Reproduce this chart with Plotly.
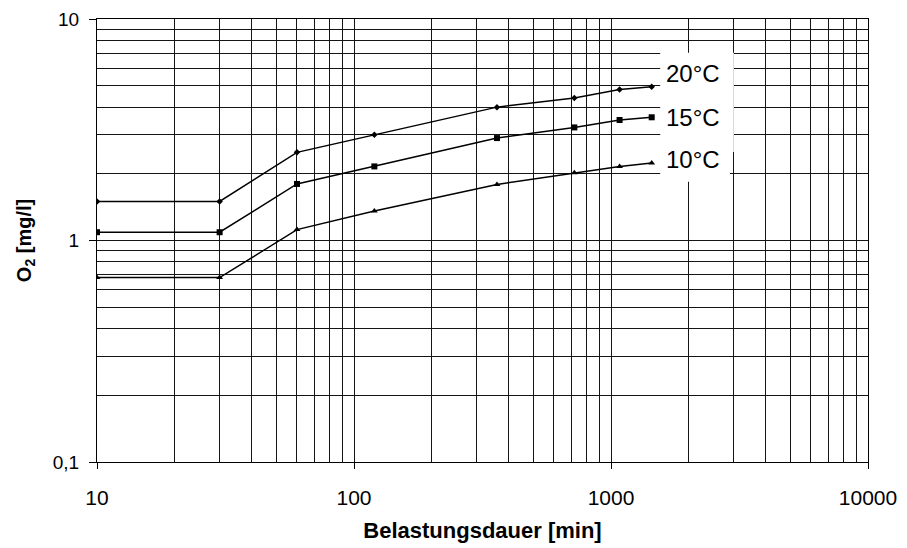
import plotly.graph_objects as go

# Data
duration_min = [10, 30, 60, 120, 360, 720, 1080, 1440]
o2_20C = [1.5, 1.5, 2.5, 3.0, 4.0, 4.4, 4.8, 4.95]
o2_15C = [1.09, 1.09, 1.8, 2.16, 2.9, 3.24, 3.5, 3.6]
o2_10C = [0.68, 0.68, 1.12, 1.36, 1.79, 2.02, 2.16, 2.24]
series_labels = ["20°C", "15°C", "10°C"]

x_ticks = [10, 100, 1000, 10000]
x_ticktext = ["10", "100", "1000", "10000"]
y_ticks = [0.1, 1, 10]
y_ticktext = ["0,1", "1", "10"]

x_minor = [m * d for d in (10, 100, 1000) for m in range(2, 10)]
y_minor = [round(m * d, 3) for d in (0.1, 1) for m in range(2, 10)]

GRID = "#151515"
FONT = "Liberation Sans, Arial, sans-serif"

fig = go.Figure()
styles = [
    (o2_20C, "diamond", 5),
    (o2_15C, "square", 6),
    (o2_10C, "triangle-up", 6),
]
for (vals, sym, size), name in zip(styles, series_labels):
    fig.add_trace(go.Scatter(
        x=duration_min, y=vals, mode="lines+markers", name=name,
        line=dict(color="black", width=1.5),
        marker=dict(symbol=sym, size=size, color="black"),
        showlegend=False,
    ))

# white box behind the series labels
fig.add_shape(type="rect", xref="paper", yref="paper",
              x0=0.7305, x1=0.826, y0=0.7, y1=0.924,
              fillcolor="white", line=dict(width=0), layer="above")
fig.add_shape(type="rect", xref="paper", yref="paper",
              x0=0.7305, x1=0.821, y0=0.6325, y1=0.701,
              fillcolor="white", line=dict(width=0), layer="above")

label_y = [0.877, 0.778, 0.682]
for txt, yy in zip(series_labels, label_y):
    fig.add_annotation(x=0.773, y=yy, xref="paper", yref="paper",
                       text=txt, showarrow=False,
                       font=dict(size=24, color="black", family=FONT),
                       xanchor="center", yanchor="middle")

fig.update_xaxes(
    type="log", range=[1, 4], automargin=False,
    tickvals=x_ticks, ticktext=x_ticktext,
    ticks="outside", ticklen=6, tickcolor="black", tickwidth=1,
    ticklabelstandoff=11,
    showline=True, linecolor="black", linewidth=1.3, mirror=True,
    showgrid=True, gridcolor=GRID, gridwidth=1.3,
    minor=dict(tickvals=x_minor, showgrid=True, gridcolor=GRID, gridwidth=1.3, ticks=""),
    tickfont=dict(size=21, color="black", family=FONT),
    title=dict(text="<b>Belastungsdauer [min]</b>", standoff=14,
               font=dict(size=22, color="black", family=FONT)),
)
fig.update_yaxes(
    type="log", range=[-1, 1], automargin=False,
    tickvals=y_ticks, ticktext=y_ticktext,
    ticks="outside", ticklen=7, tickcolor="black", tickwidth=1,
    ticklabelstandoff=6,
    showline=True, linecolor="black", linewidth=1.3, mirror=True,
    showgrid=True, gridcolor=GRID, gridwidth=1.3,
    minor=dict(tickvals=y_minor, showgrid=True, gridcolor=GRID, gridwidth=1.3, ticks=""),
    tickfont=dict(size=19, color="black", family=FONT),
    title=dict(text="<b>O<sub>2</sub> [mg/l]</b>", standoff=15,
               font=dict(size=20, color="black", family=FONT)),
)

# page body adds an 8px offset, so the figure is sized to fit the window
fig.update_layout(
    width=899, height=540,
    margin=dict(l=89, r=39, t=11, b=86),
    paper_bgcolor="white", plot_bgcolor="white",
    font=dict(family=FONT, color="black"),
)

fig.write_html("out.html")
